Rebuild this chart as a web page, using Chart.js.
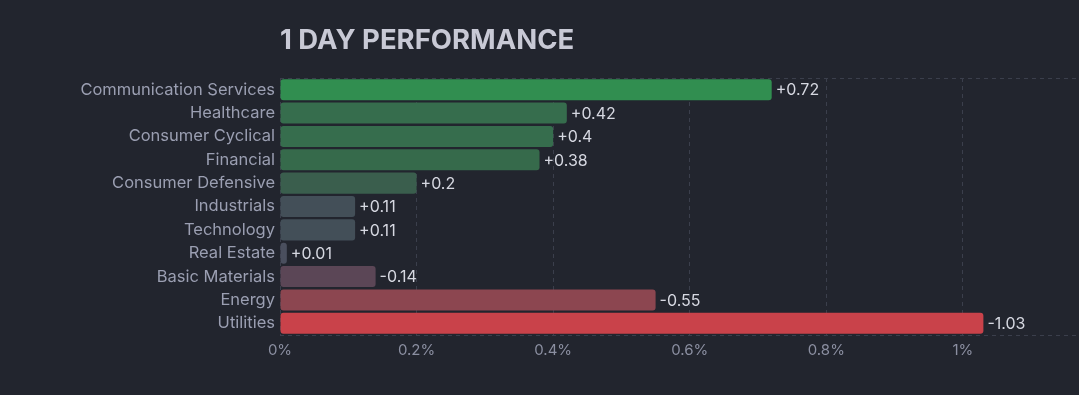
<!DOCTYPE html>
<html>
<head>
<meta charset="utf-8">
<script src="https://cdn.jsdelivr.net/npm/chart.js@4"></script>
<style>
    html, body { margin: 0; padding: 0; background: #22252e; }
    #wrap { width: 1079px; height: 395px; position: relative; }
</style>
</head>
<body>
<div id="wrap"><canvas id="chart"></canvas></div>
<script>
const sectors = ['Communication Services', 'Healthcare', 'Consumer Cyclical', 'Financial', 'Consumer Defensive',
    'Industrials', 'Technology', 'Real Estate', 'Basic Materials', 'Energy', 'Utilities'];
const changes = [0.72, 0.42, 0.4, 0.38, 0.2, 0.11, 0.11, 0.01, -0.14, -0.55, -1.03];
const barColors = ['#318e50', '#366d4d', '#366d4d', '#366a4b', '#3a5e4d', '#434f58', '#434f58', '#4a4f5e',
    '#5b4656', '#8c4650', '#c9424a'];
const xTicks = [0, 0.2, 0.4, 0.6, 0.8, 1];

const gridColor = '#3b3f4c';

// value text at the end of each bar
const valueLabels = {
    id: 'valueLabels',
    afterDatasetsDraw(chart) {
        const ctx = chart.ctx;
        const meta = chart.getDatasetMeta(0);
        ctx.save();
        ctx.font = '16px Inter';
        ctx.fillStyle = '#d6d8e1';
        ctx.textAlign = 'left';
        ctx.textBaseline = 'middle';
        meta.data.forEach((bar, i) => {
            const v = changes[i];
            const txt = (v > 0 ? '+' : '') + v;
            ctx.fillText(txt, bar.x + 4, bar.y + 1);
        });
        ctx.restore();
    }
};

// dashed lines on top and bottom of the plot area
const frameLines = {
    id: 'frameLines',
    beforeDatasetsDraw(chart) {
        const { ctx, chartArea } = chart;
        ctx.save();
        ctx.strokeStyle = gridColor;
        ctx.lineWidth = 1;
        ctx.setLineDash([4, 4]);
        [chartArea.top, chartArea.bottom].forEach((y) => {
            ctx.beginPath();
            ctx.moveTo(chartArea.left, Math.round(y) + 0.5);
            ctx.lineTo(chart.width, Math.round(y) + 0.5);
            ctx.stroke();
        });
        ctx.restore();
    }
};

new Chart(document.getElementById('chart'), {
    type: 'bar',
    data: {
        labels: sectors,
        datasets: [{
            data: changes.map((v) => Math.abs(v)),
            backgroundColor: barColors,
            borderRadius: 3,
            borderSkipped: false,
            barPercentage: 0.9,
            categoryPercentage: 1
        }]
    },
    options: {
        indexAxis: 'y',
        responsive: true,
        maintainAspectRatio: false,
        animation: false,
        layout: { padding: { top: 24, right: 0, bottom: 30, left: 0 } },
        plugins: {
            legend: { display: false },
            tooltip: { enabled: false },
            title: {
                display: true,
                text: '1 DAY PERFORMANCE',
                align: 'start',
                fullSize: false,
                color: '#c8c9d5',
                font: { family: 'Inter', size: 27.5, weight: 'bold' },
                padding: { top: 0, bottom: 21 }
            }
        },
        scales: {
            x: {
                min: 0,
                max: 1.17,
                afterBuildTicks(scale) {
                    scale.ticks = xTicks.map((v) => ({ value: v }));
                },
                grid: {
                    color: gridColor,
                    drawTicks: false
                },
                border: { display: false, dash: [4, 4] },
                ticks: {
                    color: '#8b8fa1',
                    font: { family: 'Inter', size: 15 },
                    padding: 6,
                    callback: (v) => (Math.round(v * 10) / 10) + '%'
                }
            },
            y: {
                afterFit(scale) { scale.width = 280; },
                grid: { display: false, drawTicks: false },
                border: { display: false },
                ticks: {
                    color: '#9b9fb2',
                    font: { family: 'Inter', size: 16.5 },
                    padding: 5,
                    autoSkip: false
                }
            }
        }
    },
    plugins: [frameLines, valueLabels]
});
</script>
</body>
</html>
